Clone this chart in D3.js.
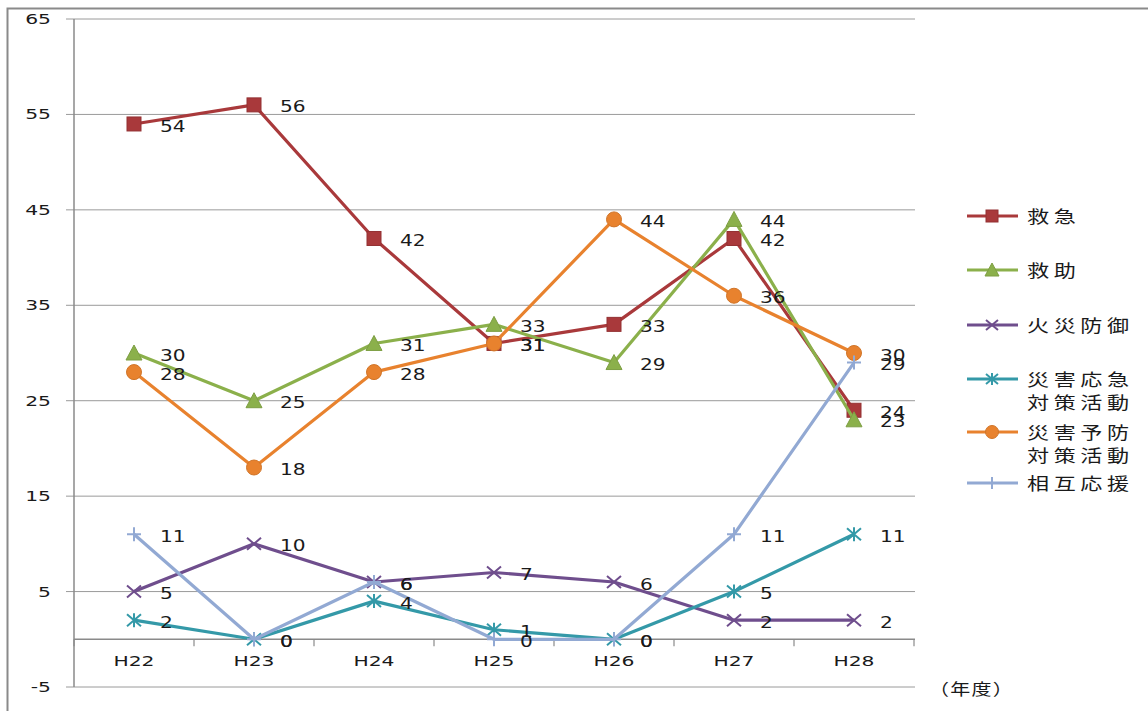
<!DOCTYPE html>
<html><head><meta charset="utf-8">
<script src="https://cdn.jsdelivr.net/npm/d3@7"></script>
<style>body{margin:0;background:#fff}svg{display:block}</style>
</head><body><svg id="c" width="1148" height="711"></svg>
<script>
const categories = ["H22","H23","H24","H25","H26","H27","H28"];
const seriesNames = ["救急","救助","火災防御","災害応急対策活動","災害予防対策活動","相互応援"];
const legendLines = [["救急"],["救助"],["火災防御"],["災害応急","対策活動"],["災害予防","対策活動"],["相互応援"]];
const kyukyu   = [54,56,42,31,33,42,24];
const kyujo    = [30,25,31,33,29,44,23];
const kasai    = [5,10,6,7,6,2,2];
const oukyu    = [2,0,4,1,0,5,11];
const yobou    = [28,18,28,31,44,36,30];
const sougo    = [11,0,6,0,0,11,29];
const yTicks = [-5,5,15,25,35,45,55,65];
const unitLabel = "（年度）";

const seriesValues = [kyukyu,kyujo,kasai,oukyu,yobou,sougo];
const colors = ["#A9393B","#8BB04B","#6F4E8D","#3499A8","#E8822E","#92A9D3"];
const markers = ["square","triangle","x","asterisk","circle","plus"];

const svg = d3.select("#c");
const font = "'DejaVu Sans', 'Noto Sans CJK JP', sans-serif";
const cjk = "'Noto Sans CJK JP', 'DejaVu Sans', sans-serif";

function txt(g, px, py, t, opts) {
  const o = Object.assign({size:15, sx:1.3, anchor:"start", family:font, ls:0}, opts||{});
  return g.append("text").attr("transform",`translate(${px},${py}) scale(${o.sx},1)`)
    .attr("text-anchor",o.anchor).attr("dominant-baseline","central")
    .attr("font-family",o.family).attr("font-size",o.size).attr("letter-spacing",o.ls)
    .attr("fill","#1a1a1a").text(t);
}

svg.append("rect").attr("x",7.5).attr("y",8.5).attr("width",1160).attr("height",720)
  .attr("fill","none").attr("stroke","#8a8a8a").attr("stroke-width",2);

const x = d3.scaleBand().domain(categories).range([74,914]);
const y = d3.scaleLinear().domain([-5,65]).range([687,19]);
const cx = c => x(c) + x.bandwidth()/2;

// gridlines
svg.append("g").selectAll("line").data(yTicks).join("line")
  .attr("x1",66).attr("x2",915).attr("y1",d=>y(d)).attr("y2",d=>y(d))
  .attr("stroke","#9a9a9a").attr("stroke-width",1);
// y axis
svg.append("line").attr("x1",74).attr("x2",74).attr("y1",y(65)).attr("y2",y(-5))
  .attr("stroke","#8a8a8a").attr("stroke-width",1.5);
const gy = svg.append("g");
yTicks.forEach(d=>txt(gy,51,y(d),d,{anchor:"end",size:14.5,sx:1.4}));
// x axis at 0
svg.append("line").attr("x1",74).attr("x2",915).attr("y1",y(0)).attr("y2",y(0))
  .attr("stroke","#8a8a8a").attr("stroke-width",1.5);
const bounds = categories.map(c=>x(c)).concat([x(categories[categories.length-1])+x.bandwidth()]);
svg.append("g").selectAll("line").data(bounds).join("line")
  .attr("x1",d=>d).attr("x2",d=>d).attr("y1",y(0)).attr("y2",y(0)+7)
  .attr("stroke","#8a8a8a").attr("stroke-width",1.2);
const gx = svg.append("g");
categories.forEach(c=>txt(gx,cx(c),661,c,{anchor:"middle",size:14.5,sx:1.4}));
txt(svg,929,688,unitLabel,{family:cjk,size:16,sx:1.25,ls:1});

function drawMarker(g, type, color, px, py, s) {
  const h = s/2;
  if (type==="square") {
    g.append("rect").attr("x",px-h).attr("y",py-h).attr("width",s).attr("height",s)
      .attr("fill",color).attr("stroke",d3.color(color).darker(0.4)).attr("stroke-width",1);
  } else if (type==="triangle") {
    g.append("path").attr("d",`M${px},${py-h-1}L${px+h+1},${py+h}L${px-h-1},${py+h}Z`)
      .attr("fill",color).attr("stroke",d3.color(color).darker(0.3)).attr("stroke-width",1);
  } else if (type==="circle") {
    g.append("circle").attr("cx",px).attr("cy",py).attr("r",h+0.5).attr("fill",color)
      .attr("stroke",d3.color(color).darker(0.3)).attr("stroke-width",1);
  } else {
    const p = d3.path();
    if (type==="x"||type==="asterisk") {
      p.moveTo(px-h,py-h+1); p.lineTo(px+h,py+h-1);
      p.moveTo(px-h,py+h-1); p.lineTo(px+h,py-h+1);
    }
    if (type==="asterisk") { p.moveTo(px,py-h); p.lineTo(px,py+h); }
    if (type==="plus") { p.moveTo(px-h,py); p.lineTo(px+h,py); p.moveTo(px,py-h); p.lineTo(px,py+h); }
    g.append("path").attr("d",p.toString()).attr("stroke",color).attr("stroke-width",2).attr("fill","none");
  }
}

const line = d3.line().x((d,i)=>cx(categories[i])).y(d=>y(d));
seriesValues.forEach((vals,si)=>{
  const g = svg.append("g");
  g.append("path").datum(vals).attr("d",line).attr("fill","none")
    .attr("stroke",colors[si]).attr("stroke-width",3.2).attr("stroke-linejoin","round");
  vals.forEach((v,i)=>drawMarker(g,markers[si],colors[si],cx(categories[i]),y(v),14));
});
// data labels
seriesValues.forEach((vals,si)=>{
  const g = svg.append("g");
  vals.forEach((d,i)=>txt(g,cx(categories[i])+26,y(d)+2,d,{size:15.5,sx:1.3}));
});

// legend
const legY = [216,270,325,379,432,483];
legendLines.forEach((lines,i)=>{
  const g = svg.append("g");
  g.append("line").attr("x1",967).attr("x2",1018).attr("y1",legY[i]).attr("y2",legY[i])
    .attr("stroke",colors[i]).attr("stroke-width",3);
  drawMarker(g,markers[i],colors[i],992,legY[i],12);
  lines.forEach((t,j)=>txt(g,1027,legY[i]+j*23,t,{family:cjk,size:17,sx:1.3,ls:3.5}));
});
</script></body></html>
